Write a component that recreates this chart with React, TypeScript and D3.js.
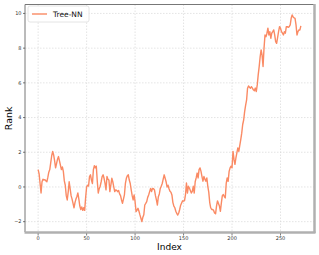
import * as d3 from "d3";
import React from "react";

// Tree-NN rank per index
const rank = [
  1.0, 0.75, 0.2, -0.35, 0.3, 0.45, 0.4, 0.42, 0.35, 0.3,
  0.55, 0.85, 1.0, 1.4, 1.8, 2.05, 1.85, 1.5, 1.1, 1.35,
  1.6, 1.75, 1.5, 1.25, 1.0, 1.15, 0.9, 0.35, 0.1, -0.5,
  -0.75, -0.3, 0.3, -0.1, -0.5, -0.7, -0.95, -1.2, -0.9, -0.7,
  -0.55, -0.35, -0.7, -1.1, -1.3, -1.15, -1.35, -1.2, -1.35, -0.6,
  0.0, 0.1, 0.05, 0.6, 0.7, 0.4, 0.2, 1.0, 1.23, 1.1,
  1.2, 0.33, -0.35, -0.1, 0.04, 0.3, 0.6, 0.7, 0.5, 0.2,
  -0.17, 0.6, 0.45, 0.4, -0.27, 0.1, 0.5, 0.3, 0.0, -0.27,
  -0.17, -0.2, -0.27, -0.2, -0.4, -0.5, -0.75, -0.94, -0.7, -0.46,
  0.2, 0.5, 0.65, 0.7, 0.4, 0.2, -0.17, -0.5, -0.75, -0.46,
  -0.85, -1.42, -1.33, -1.23, -1.4, -1.61, -1.8, -2.0, -1.75, -1.6,
  -1.04, -0.95, -0.85, -0.6, -0.46, -0.27, -0.08, -0.27, -0.08, -0.1,
  -0.17, -0.5, -0.75, -1.04, -0.56, -0.4, -0.08, 0.04, 0.2, 0.45,
  0.7, 0.5, 0.3, 0.0, 0.1, -0.1, -0.25, -0.3, -0.46, -0.9,
  -1.1, -1.2, -1.4, -1.52, -1.62, -1.5, -1.3, -1.05, -0.92, -0.8,
  -0.82, -0.79, -0.44, 0.23, -0.35, 0.04, -0.06, -0.2, -0.35, -0.25,
  0.04, -0.35, 0.3, 0.52, 0.8, 0.52, 1.0, 1.1, 0.9, 0.6,
  0.33, 0.6, 0.45, 0.33, 0.52, 0.04, -0.3, -0.9, -1.2, -1.3,
  -1.3, -1.35, -1.5, -1.55, -1.1, -0.8, -0.95, -1.1, -1.4, -0.92,
  -0.5, -0.44, -0.55, -0.63, 0.2, 0.52, 0.33, 0.9, 1.1, 1.2,
  1.1, 2.05, 1.6, 1.3, 1.67, 1.96, 2.25, 2.05, 2.4, 2.73,
  3.1, 3.6, 3.86, 4.34, 4.7, 5.0, 5.69, 5.82, 5.75, 5.69,
  5.78, 5.7, 5.6, 5.55, 5.7, 5.5, 5.88, 6.46, 6.94, 7.5,
  7.9, 7.6, 6.94, 8.0, 8.76, 8.66, 8.86, 9.15, 8.76, 8.95,
  8.57, 8.86, 8.95, 9.05, 8.76, 8.38, 8.28, 8.6, 8.95, 9.24,
  9.15, 8.95, 8.86, 8.76, 8.95, 8.86, 9.24, 9.24, 9.2, 9.24,
  9.34, 9.72, 9.92, 9.8, 9.75, 9.72, 9.34, 8.76, 8.95, 9.05,
  9.05, 9.28,
];
const xTicks = [0, 50, 100, 150, 200, 250];
const yTicks = [-2, 0, 2, 4, 6, 8, 10];
const seriesName = "Tree-NN";

const W = 319;
const H = 255;
const LINE = "#fa8a64";

export default function App() {
  const left = 25;
  const right = 314;
  const top = 4.5;
  const bottom = 232;

  // matplotlib-like 5% margins
  const n = rank.length - 1;
  const xPad = n * 0.05;
  const [yMin, yMax] = d3.extent(rank) as [number, number];
  const yPad = (yMax - yMin) * 0.05;

  const x = d3.scaleLinear().domain([-xPad, n + xPad]).range([left, right]);
  const y = d3.scaleLinear().domain([yMin - yPad, yMax + yPad]).range([bottom, top]);

  const line = d3
    .line<number>()
    .x((_, i) => x(i))
    .y((d) => y(d));

  return (
    <svg width={W} height={H} style={{ position: "absolute", left: 0, top: 0, fontFamily: "DejaVu Sans" }}>
      <rect width={W} height={H} fill="#fff" />
      {xTicks.map((t) => (
        <line key={"gx" + t} x1={x(t)} x2={x(t)} y1={top} y2={bottom} stroke="#d8d8d8" strokeWidth={0.7} strokeDasharray="1.5,1.5" />
      ))}
      {yTicks.map((t) => (
        <line key={"gy" + t} x1={left} x2={right} y1={y(t)} y2={y(t)} stroke="#d8d8d8" strokeWidth={0.7} strokeDasharray="1.5,1.5" />
      ))}

      <path d={line(rank) ?? ""} fill="none" stroke={LINE} strokeWidth={1.4} strokeLinejoin="round" />

      {/* frame: dark top/left, light heavy bottom/right */}
      <line x1={left} x2={right} y1={top} y2={top} stroke="#777" strokeWidth={1} />
      <line x1={left} x2={left} y1={top} y2={bottom} stroke="#777" strokeWidth={1} />
      <line x1={right + 0.5} x2={right + 0.5} y1={top - 0.5} y2={bottom + 1} stroke="#b0b0b0" strokeWidth={2.5} />
      <line x1={left - 0.5} x2={right + 1.5} y1={bottom + 0.5} y2={bottom + 0.5} stroke="#b0b0b0" strokeWidth={2.5} />

      {xTicks.map((t) => (
        <g key={"tx" + t} transform={`translate(${x(t)},${bottom + 1.5})`}>
          <line y1={0} y2={2} stroke="#444" strokeWidth={0.7} />
          <text y={6.5} textAnchor="middle" fontSize={5} fill="#333">{t}</text>
        </g>
      ))}
      {yTicks.map((t) => (
        <g key={"ty" + t} transform={`translate(${left},${y(t)})`}>
          <line x1={-2} x2={0} stroke="#444" strokeWidth={0.7} />
          <text x={-3.5} dy="0.35em" textAnchor="end" fontSize={5} fill="#333">{t === -2 ? "\u22122" : t}</text>
        </g>
      ))}

      <text x={(left + right) / 2} y={249.5} textAnchor="middle" fontSize={9} fill="#000">Index</text>
      <text transform={`translate(12,${(top + bottom) / 2}) rotate(-90)`} textAnchor="middle" fontSize={9.5} fill="#000">Rank</text>

      <g transform={`translate(28,6)`}>
        <rect width={61} height={16} rx={2} fill="#fff" fillOpacity={0.85} stroke="#ddd" strokeWidth={0.8} />
        <line x1={4} x2={19} y1={8} y2={8} stroke={LINE} strokeWidth={1.4} />
        <text x={25} y={11} fontSize={7.5} fill="#111">{seriesName}</text>
      </g>
    </svg>
  );
}
